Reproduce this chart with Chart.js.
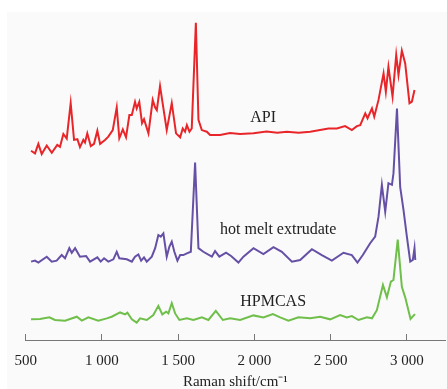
<!DOCTYPE html>
<html><head><meta charset="utf-8">
<script src="https://cdn.jsdelivr.net/npm/chart.js@4.4.1/dist/chart.umd.min.js"></script>
<style>html,body{margin:0;padding:0;background:#fff;}canvas{display:block;}</style>
</head><body>
<canvas id="c" width="447" height="389"></canvas>
<script>
// Raman shift (cm^-1) and relative intensity (offset spectra, a.u.)
const apiShift = [535,561,583,605,638,671,707,725,747,769,795,817,839,856,878,889,904,927,948,970,988,1020,1042,1071,1097,1114,1137,1158,1180,1196,1217,1228,1245,1263,1276,1305,1333,1349,1360,1381,1425,1458,1486,1513,1530,1545,1557,1574,1589,1616,1633,1655,1688,1709,1775,1840,1906,1994,2080,2150,2213,2290,2366,2486,2541,2595,2639,2672,2694,2727,2742,2771,2786,2814,2847,2862,2879,2906,2930,2945,2967,2989,3017,3033,3050];
const apiInt   = [57.7,56.9,59.8,56.7,59.3,57.1,59.5,58.9,62.8,61.4,72.2,61.0,61.2,58.8,61.0,60.2,63.0,59.1,59.8,63.8,59.8,61.0,62.0,64.0,70.9,61.5,64.2,61.8,68.6,68.6,72.6,70.6,72.6,66.1,67.3,63.0,73.2,70.9,70.1,77.4,64.0,72.2,63.0,61.8,64.5,63.5,65.5,63.5,64.5,96.7,67.1,64.0,63.5,62.5,62.5,63.1,62.8,63.0,63.6,63.2,63.5,63.2,63.5,64.5,64.5,65.2,64.0,65.2,65.5,69.1,67.6,70.6,68.1,73.2,81.3,75.7,83.3,74.2,86.9,80.8,88.2,84.3,72.2,72.7,76.2];

const hmeShift = [535,561,583,638,671,703,736,758,786,802,824,856,896,922,970,992,1014,1042,1075,1097,1114,1163,1196,1217,1239,1257,1276,1294,1327,1349,1370,1386,1403,1425,1442,1458,1475,1495,1513,1534,1557,1583,1611,1633,1665,1721,1742,1770,1814,1847,1895,1928,1994,2059,2125,2180,2246,2300,2377,2442,2508,2584,2639,2676,2711,2759,2792,2814,2836,2858,2879,2902,2912,2935,2956,2978,3000,3022,3039,3050,3055];
const hmeInt   = [23.9,24.2,23.6,25.4,23.9,24.2,25.9,24.9,28.0,26.6,28.0,25.4,25.6,23.9,25.2,23.9,24.9,23.9,24.6,26.9,24.9,24.6,23.9,25.4,26.1,24.2,25.2,23.9,25.4,28.0,32.0,31.5,32.5,25.4,28.4,30.0,26.9,24.2,25.9,25.9,26.4,26.9,54.1,28.0,26.9,25.4,27.1,25.4,26.6,25.6,23.6,25.4,28.0,26.2,28.3,26.9,23.9,24.4,27.7,25.9,24.2,26.6,25.9,23.6,25.9,29.5,31.5,37.6,47.3,39.1,47.8,47.3,50.8,70.6,46.7,39.6,31.5,23.9,24.4,28.0,24.4];

const hpmShift = [535,594,655,692,758,835,868,911,976,1032,1064,1119,1152,1167,1196,1228,1250,1294,1337,1370,1396,1421,1436,1458,1480,1508,1557,1600,1655,1698,1747,1793,1841,1906,1994,2059,2121,2169,2223,2289,2366,2431,2497,2562,2606,2639,2683,2738,2771,2803,2843,2869,2895,2912,2940,2967,2989,3024,3053];
const hpmInt   = [6.3,6.4,6.9,6.1,5.9,7.1,5.9,6.9,5.9,6.6,7.1,8.4,7.8,8.3,6.3,5.3,6.6,6.1,7.6,10.4,7.8,8.6,8.1,11.2,8.1,6.1,6.6,6.1,6.9,6.1,8.9,6.1,6.6,6.1,7.5,6.9,7.9,6.9,5.9,6.9,6.6,7.1,6.3,7.6,6.9,7.3,6.1,6.9,6.6,9.1,16.8,13.0,17.8,18.3,30.6,16.2,13.0,6.4,7.9];

const seriesNames = ["API", "hot melt extrudate", "HPMCAS"];
const xTicks = [500, 1000, 1500, 2000, 2500, 3000];
const xTitle = "Raman shift/cm\u207B\u00B9";

function pts(xs, ys){ return xs.map((x,i)=>({x:x, y:ys[i]})); }

const labelPos = [
  {x: 2057, y: 67.7},
  {x: 2156, y: 33.5},
  {x: 2123, y: 11.6}
];

const bgPlugin = {
  id: 'bg',
  beforeDraw(chart){
    const ctx = chart.ctx;
    ctx.save();
    ctx.fillStyle = '#fafafa';
    ctx.fillRect(7, 12, chart.width - 7, chart.height - 12);
    ctx.restore();
  }
};

const labelPlugin = {
  id: 'seriesLabels',
  afterDatasetsDraw(chart){
    const ctx = chart.ctx, xs = chart.scales.x, ys = chart.scales.y;
    ctx.save();
    ctx.font = '16px "Liberation Serif", "Times New Roman", serif';
    ctx.fillStyle = '#222';
    ctx.textAlign = 'center';
    ctx.textBaseline = 'middle';
    seriesNames.forEach((n,i)=>{
      ctx.fillText(n, xs.getPixelForValue(labelPos[i].x), ys.getPixelForValue(labelPos[i].y));
    });
    ctx.restore();
  }
};

const lineStyle = {borderWidth: 2, pointRadius: 0, tension: 0, fill: false};

new Chart(document.getElementById('c'), {
  type: 'line',
  data: {
    datasets: [
      Object.assign({label: seriesNames[0], data: pts(apiShift, apiInt), borderColor: '#e8262a'}, lineStyle),
      Object.assign({label: seriesNames[1], data: pts(hmeShift, hmeInt), borderColor: '#6650a6'}, lineStyle),
      Object.assign({label: seriesNames[2], data: pts(hpmShift, hpmInt), borderColor: '#6fbf4a'}, lineStyle)
    ]
  },
  options: {
    responsive: false,
    animation: false,
    layout: {padding: {left: 25.7, right: 2, top: 12, bottom: 0}},
    plugins: {legend: {display: false}, tooltip: {enabled: false}},
    scales: {
      x: {
        type: 'linear',
        min: 500, max: 3250,
        afterBuildTicks(scale){ scale.ticks = xTicks.map(v=>({value: v})); },
        grid: {drawOnChartArea: false, drawTicks: true, tickLength: -6, color: '#777', lineWidth: 1},
        border: {display: true, color: '#777', width: 1},
        ticks: {
          padding: 14,
          maxRotation: 0,
          autoSkip: false,
          color: '#222',
          font: {family: '"Liberation Serif", "Times New Roman", serif', size: 15, lineHeight: 1.7333},
          callback(v){ return String(v).replace(/\B(?=(\d{3})+(?!\d))/g, ' '); }
        },
        title: {
          display: true, text: xTitle, color: '#222',
          padding: {top: -15, bottom: -2},
          font: {family: '"Liberation Serif", "Times New Roman", serif', size: 15}
        }
      },
      y: {
        type: 'linear', min: 0, max: 100, display: false
      }
    }
  },
  plugins: [bgPlugin, labelPlugin]
});
</script>
</body></html>
